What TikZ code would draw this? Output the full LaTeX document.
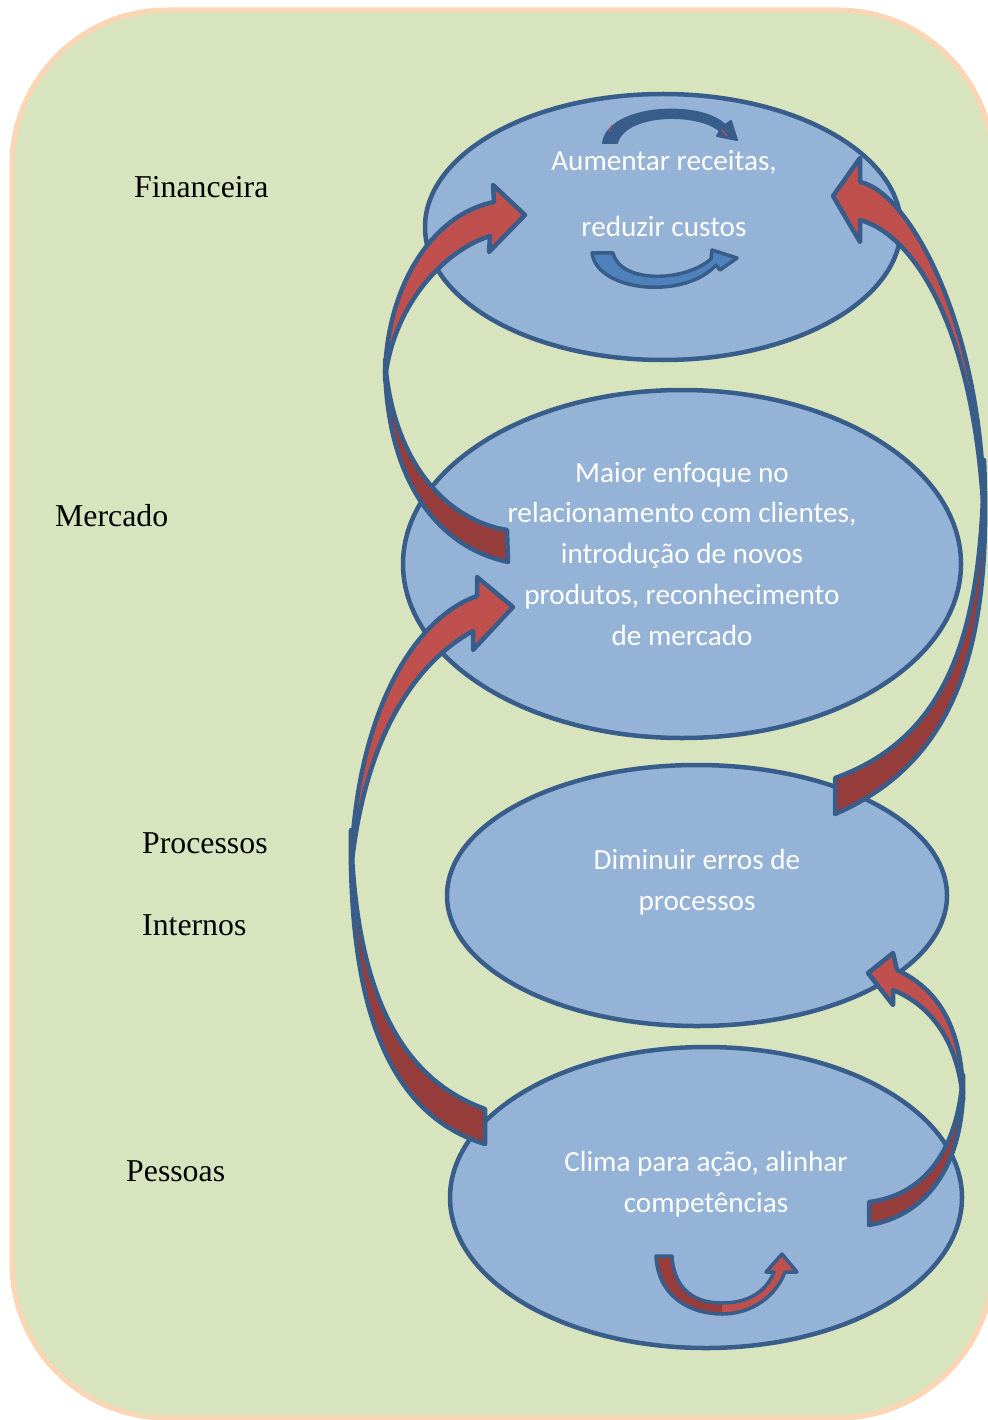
\documentclass[tikz,border=0pt]{standalone}
\usepackage{fontspec}
\setmainfont{Liberation Serif}
\newfontfamily\calib{Carlito}
\usetikzlibrary{shapes.geometric,arrows.meta}
\definecolor{bg}{RGB}{215,228,189}
\definecolor{bgline}{RGB}{252,213,180}
\definecolor{ellfill}{RGB}{149,179,215}
\definecolor{ellline}{RGB}{56,93,138}
\definecolor{redl}{RGB}{192,80,77}
\definecolor{redd}{RGB}{150,60,58}
\definecolor{bluemid}{RGB}{79,129,189}
\tikzset{
  ell/.style={ellipse, draw=ellline, fill=ellfill, line width=4.5pt, inner sep=0pt},
  lab/.style={font=\fontsize{31.8}{36}\selectfont, anchor=base west, inner sep=0pt},
  etxt/.style={font=\calib\fontsize{29.2}{34}\selectfont, text=white, anchor=base, inner sep=0pt},
  bandlight/.style={fill=redl, draw=ellline, line width=4.5pt, line join=round},
  banddark/.style={fill=redd, draw=ellline, line width=4.5pt, line join=round},
}
\begin{document}
\begin{tikzpicture}[x=1pt,y=-1pt]
\useasboundingbox (0,0) rectangle (987,1420);
% background
\draw[bgline, line width=5pt, fill=bg, rounded corners=155pt] (12,10) rectangle (993,1418);

% ellipses
\node[ell, minimum width=476pt, minimum height=266pt] (e1) at (663,227) {};
\node[ell, minimum width=558pt, minimum height=348pt] (e2) at (682,564) {};
\node[ell, minimum width=500pt, minimum height=261pt] (e3) at (697,895.5) {};
\node[ell, minimum width=512pt, minimum height=301pt] (e4) at (706,1197.5) {};

% left labels
\node[lab] (lfin) at (134,198) {Financeira};
\node[lab] (lmer) at (55,526) {Mercado};
\node[lab] (lpro) at (142,853) {Processos};
\node[lab] (lint) at (142,935) {Internos};
\node[lab] (lpes) at (126,1181) {Pessoas};

% ellipse texts
\node[etxt] (t1a) at (664,171) {Aumentar receitas,};
\node[etxt] (t1b) at (664,237) {reduzir custos};
\node[etxt] (t2a) at (682,482) {Maior enfoque no};
\node[etxt] (t2b) at (682,522) {relacionamento com clientes,};
\node[etxt] (t2c) at (682,563) {introdução de novos};
\node[etxt] (t2d) at (682,604) {produtos, reconhecimento};
\node[etxt] (t2e) at (682,645) {de mercado};
\node[etxt] (t3a) at (697,869) {Diminuir erros de};
\node[etxt] (t3b) at (697,910) {processos};
\node[etxt] (t4a) at (706,1171) {Clima para ação, alinhar};
\node[etxt] (t4b) at (706,1212) {competências};

% small arrow in top ellipse (upper arc)
\draw[fill=ellline, draw=ellline, line width=2pt, line join=round]
  (603,143) .. controls (608,105) and (700,100) .. (725,125) -- (731,121) -- (737,140) -- (717,136)
  -- (720,131) .. controls (700,112) and (625,112) .. (617,143) -- cycle;
\draw[redl, line width=1.2pt] (609,131) -- (612,125);
\draw[redl, line width=1.2pt] (722,130) -- (727,136);
% small arrow in top ellipse (lower arc)
\draw[fill=bluemid, draw=ellline, line width=3.5pt, line join=round]
  (592,253) .. controls (597,292) and (685,300) .. (716,265) -- (720,270) -- (737,258) -- (712,250)
  -- (711,259) .. controls (683,283) and (620,283) .. (613,253) -- cycle;

% small arrow in bottom ellipse
\fill[redd] (656,1256) .. controls (658,1298) and (692,1314) .. (722,1314) -- (722,1303)
  .. controls (695,1303) and (674,1290) .. (672,1256) -- cycle;
\fill[redl] (722,1314) .. controls (752,1314) and (776,1296) .. (785,1272) -- (797,1272) -- (782,1254) -- (766,1272)
  -- (774,1272) .. controls (766,1292) and (748,1303) .. (722,1303) -- cycle;
\draw[ellline, line width=3.5pt, line join=round]
  (656,1256) .. controls (658,1298) and (692,1314) .. (722,1314) .. controls (752,1314) and (776,1296) .. (785,1272)
  -- (797,1272) -- (782,1254) -- (766,1272) -- (774,1272)
  .. controls (766,1292) and (748,1303) .. (722,1303) .. controls (695,1303) and (674,1290) .. (672,1256) -- cycle;

% Arrow A: middle -> top (left side)
\draw[banddark] (385,360) .. controls (385,470) and (430,545) .. (508,562) -- (507,530)
  .. controls (445,520) and (392,460) .. (385,360) -- cycle;
\draw[bandlight] (385,380) .. controls (385,290) and (430,215) .. (494,202) -- (493,185) -- (525,215)
  -- (489,252) -- (490,236) .. controls (440,252) and (392,310) .. (385,380) -- cycle;

% Arrow B: processes -> top (right side)
\draw[banddark] (984,460) .. controls (992,640) and (960,760) .. (835,814) -- (835,778)
  .. controls (955,735) and (982,620) .. (984,460) -- cycle;
\draw[bandlight] (860,182) .. controls (910,192) and (985,330) .. (984,520)
  .. controls (975,330) and (915,235) .. (860,220) -- (860,242) -- (833,196) -- (860,158) -- cycle;

% Arrow C: people -> middle (left side)
\draw[banddark] (351,830) .. controls (348,1010) and (390,1115) .. (485,1144) -- (485,1109)
  .. controls (405,1080) and (355,1000) .. (351,830) -- cycle;
\draw[bandlight] (477,596) .. controls (410,620) and (355,720) .. (351,870)
  .. controls (365,730) and (420,660) .. (473,631) -- (473,650) -- (513,607) -- (477,577) -- cycle;

% Arrow D: people -> processes (right side)
\draw[banddark] (963,1075) .. controls (966,1160) and (930,1215) .. (869,1225) -- (869,1202)
  .. controls (925,1195) and (958,1150) .. (963,1075) -- cycle;
\draw[bandlight] (897,970) .. controls (940,990) and (963,1030) .. (963,1100)
  .. controls (958,1040) and (930,1005) .. (893,990) -- (893,1005) -- (868,973) -- (893,953) -- cycle;
\end{tikzpicture}
\end{document}
